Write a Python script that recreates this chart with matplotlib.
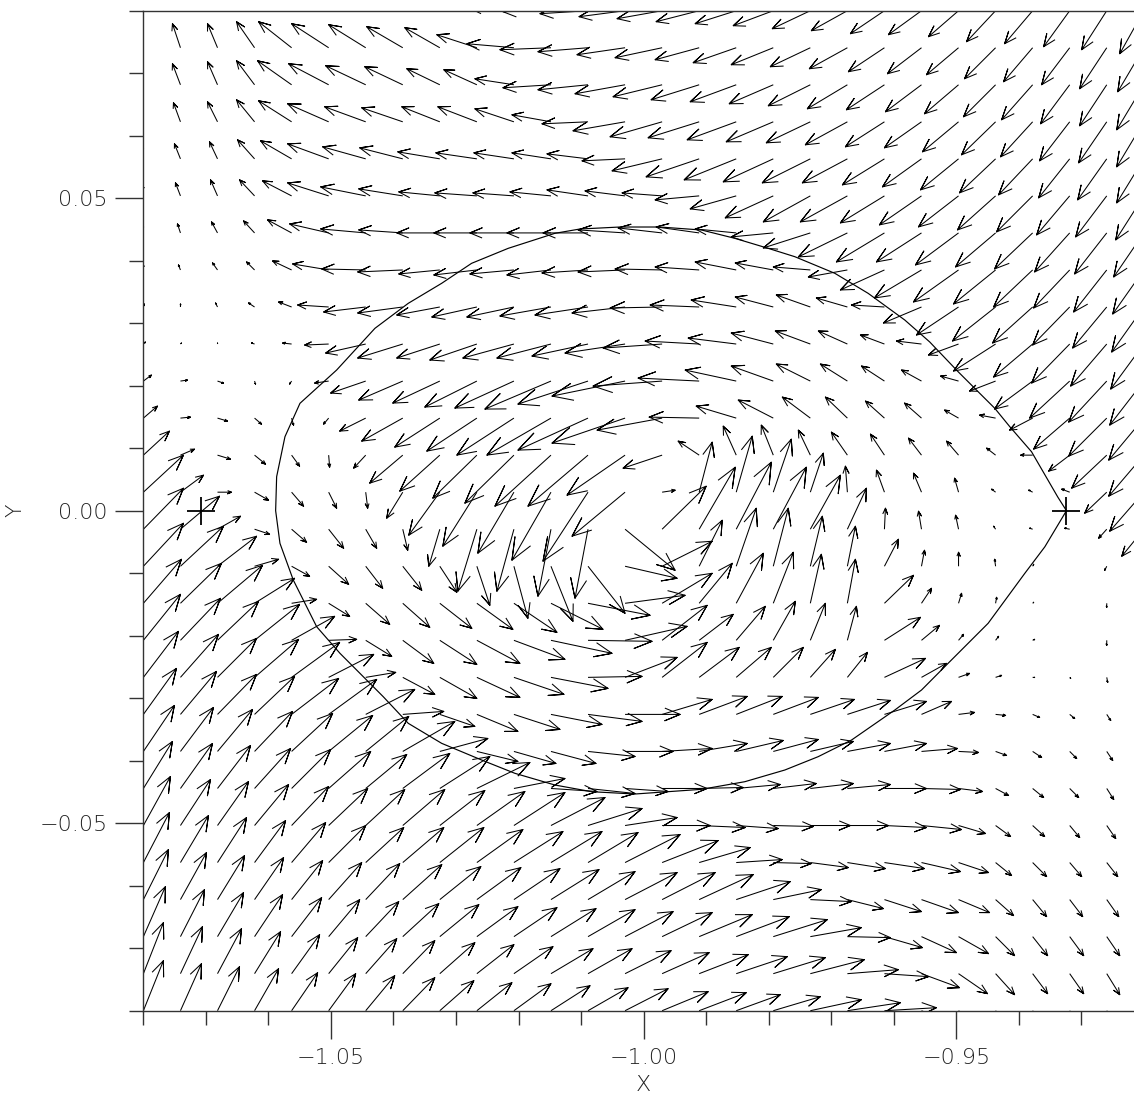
import numpy as np
import matplotlib
matplotlib.use("Agg")
import matplotlib.pyplot as plt
from matplotlib.collections import LineCollection
from matplotlib.ticker import MultipleLocator, FuncFormatter

# grid of the vector field (28 x 28), rows listed from top (y=0.08) to bottom
x_grid = np.linspace(-1.08, -0.92, 28)
y_grid = np.linspace(0.08, -0.08, 28)

# field components (arbitrary velocity units)
u_rows = [
    [-3,-7,-9,-18,-32,-36,-36,-35,-34,-38,-45,-48,-48,-46,-45,-43,-41,-40,-38,-36,-34,-33,-30,-29,-28,-26,-25,-24],
    [-4,-8,-10,-18,-33,-37,-37,-36,-35,-40,-47,-51,-50,-48,-47,-44,-43,-42,-40,-38,-36,-34,-32,-31,-29,-28,-27,-26],
    [-4,-8,-10,-18,-34,-40,-40,-38,-33,-33,-39,-48,-50,-50,-49,-48,-46,-44,-42,-40,-38,-36,-34,-32,-31,-29,-27,-27],
    [-3,-7,-10,-18,-33,-41,-41,-41,-38,-39,-39,-39,-46,-52,-52,-51,-49,-47,-44,-42,-39,-37,-36,-34,-32,-30,-28,-27],
    [-2,-6,-8,-17,-31,-41,-43,-43,-42,-41,-40,-39,-41,-43,-50,-53,-52,-50,-48,-45,-42,-39,-38,-36,-34,-31,-29,-27],
    [-1,-5,-7,-15,-29,-41,-45,-44,-41,-42,-41,-41,-41,-40,-40,-44,-46,-48,-47,-47,-44,-42,-40,-38,-36,-33,-31,-28],
    [-1,-3,-6,-11,-24,-39,-45,-44,-43,-43,-44,-44,-45,-47,-44,-43,-41,-42,-47,-49,-48,-45,-43,-40,-38,-35,-32,-30],
    [0,-2,-5,-8,-19,-36,-44,-45,-41,-43,-44,-44,-46,-47,-47,-44,-41,-38,-37,-39,-44,-47,-45,-42,-39,-36,-33,-31],
    [1,0,-2,-6,-13,-31,-42,-45,-43,-45,-47,-51,-53,-53,-52,-49,-45,-38,-34,-31,-33,-38,-42,-43,-40,-37,-34,-32],
    [2,1,0,-3,-9,-24,-40,-45,-43,-47,-51,-54,-56,-60,-59,-54,-48,-42,-35,-29,-24,-25,-30,-42,-39,-38,-36,-33],
    [8,7,6,1,-2,-14,-35,-44,-47,-52,-59,-66,-70,-73,-69,-61,-51,-42,-34,-27,-23,-20,-18,-26,-38,-40,-38,-34],
    [14,10,10,7,2,-5,-26,-41,-45,-50,-57,-64,-70,-73,-65,-50,-40,-35,-28,-22,-19,-17,-14,-16,-23,-36,-38,-35],
    [26,14,13,11,8,1,-12,-33,-40,-44,-49,-56,-60,-58,-39,-21,-13,-12,-12,-16,-14,-13,-12,-9,-12,-21,-35,-35],
    [40,23,14,14,12,8,2,-16,-31,-34,-36,-39,-45,-53,13,13,16,18,13,-2,-8,-8,-4,-4,-4,-8,-22,-34],
    [40,39,23,15,15,15,11,5,-11,-19,-17,-13,-13,50,44,36,35,33,30,19,1,-3,-3,-2,-3,-5,-8,-22],
    [40,43,39,24,18,20,17,19,17,13,14,22,37,52,50,23,20,15,12,8,14,3,0,-1,1,0,-2,-3],
    [38,41,45,40,25,21,24,27,32,36,43,52,62,60,50,33,27,20,11,8,29,10,3,1,1,0,0,0],
    [37,40,41,45,43,28,26,31,37,43,51,61,64,62,45,34,29,22,15,9,36,18,5,3,2,0,0,0],
    [35,38,39,44,48,45,30,32,37,43,50,57,54,52,45,40,35,30,25,20,41,25,11,6,2,1,1,1],
    [33,36,39,40,47,48,49,41,35,41,46,51,54,55,50,48,46,45,44,43,42,30,16,10,7,5,4,3],
    [31,33,35,38,41,44,43,52,48,41,42,45,47,48,50,48,47,45,43,43,42,36,20,11,9,7,6,5],
    [29,32,33,36,39,42,41,47,50,53,51,46,47,43,45,44,44,43,43,43,42,39,24,13,11,9,7,6],
    [27,30,31,34,37,39,39,42,45,48,51,54,54,52,48,46,42,40,40,41,42,40,27,15,12,10,9,8],
    [26,28,29,31,34,37,38,41,44,46,49,51,50,55,56,51,46,38,38,38,40,39,30,16,14,12,11,10],
    [25,26,27,29,31,33,34,39,41,44,46,48,47,52,53,54,54,48,41,36,37,37,31,18,14,13,12,11],
    [22,24,26,28,30,31,33,36,39,41,43,45,47,48,50,53,53,54,51,43,38,35,30,19,15,14,13,12],
    [20,22,24,26,28,29,31,32,35,37,39,42,44,46,47,49,51,52,54,51,44,38,29,19,15,14,13,13],
    [20,21,22,24,26,27,29,32,34,35,37,39,40,43,46,47,44,47,51,53,52,38,30,19,15,14,14,13],
]
v_rows = [
    [24,26,26,27,27,25,24,22,20,14,3,-1,-3,-6,-8,-11,-13,-15,-18,-20,-23,-24,-26,-31,-33,-36,-39,-43],
    [22,24,24,26,26,24,23,21,20,13,4,-2,-4,-7,-10,-12,-15,-17,-19,-21,-24,-26,-27,-31,-34,-37,-41,-44],
    [20,21,23,24,24,21,19,18,16,15,6,-3,-5,-9,-12,-15,-17,-19,-21,-24,-25,-27,-29,-32,-35,-39,-41,-45],
    [18,19,20,22,21,18,15,14,15,15,13,7,-2,-9,-15,-16,-18,-20,-21,-23,-25,-26,-30,-33,-35,-39,-41,-45],
    [14,15,17,19,18,15,12,11,7,6,6,6,5,-2,-12,-18,-21,-23,-24,-24,-26,-28,-31,-34,-36,-39,-41,-44],
    [11,13,16,16,15,13,9,7,4,3,3,4,6,5,3,-4,-13,-22,-26,-26,-27,-29,-31,-34,-36,-39,-41,-44],
    [8,9,11,12,13,9,4,3,0,0,0,0,0,3,5,6,4,-4,-15,-24,-29,-29,-32,-34,-36,-39,-41,-44],
    [5,5,7,8,9,6,1,-2,-4,-5,-4,-5,-3,-2,1,3,8,7,3,-7,-20,-28,-32,-34,-37,-38,-42,-44],
    [3,3,4,4,5,2,-5,-6,-8,-10,-10,-9,-8,-6,-1,2,7,10,12,9,2,-16,-28,-34,-36,-38,-41,-45],
    [2,1,1,1,1,-1,-9,-14,-14,-16,-14,-14,-12,-9,-4,3,6,11,13,13,9,3,-11,-27,-33,-39,-42,-45],
    [6,1,-2,-3,-3,-2,-12,-19,-22,-26,-27,-28,-23,-15,-5,3,11,15,17,17,15,11,5,-10,-28,-37,-41,-44],
    [12,1,-3,-6,-7,-6,-13,-23,-29,-33,-37,-37,-32,-25,-12,1,12,18,21,21,17,15,8,3,-12,-31,-38,-42],
    [24,6,-4,-9,-11,-12,-13,-28,-36,-43,-48,-51,-51,-40,-13,14,29,30,25,23,21,17,14,7,0,-16,-33,-41],
    [37,17,0,-8,-14,-16,-16,-26,-43,-54,-61,-68,-69,-44,2,50,56,53,39,26,22,19,14,3,2,3,-21,-39],
    [41,33,13,-5,-13,-19,-19,-21,-37,-62,-62,-67,-69,-41,43,62,67,62,54,41,21,18,14,3,1,1,-9,-27],
    [43,40,30,7,-10,-18,-22,-24,-26,-39,-52,-55,-47,-12,25,46,58,58,50,40,27,16,14,7,2,0,-4,-10],
    [44,40,38,25,4,-13,-21,-24,-25,-26,-29,-26,-12,8,30,40,50,51,49,44,28,15,10,6,1,0,-4,-8],
    [46,42,39,36,24,1,-16,-23,-24,-23,-19,-13,-1,14,35,26,34,39,37,34,23,15,6,4,1,0,-5,-8],
    [46,43,39,38,35,23,5,-17,-21,-20,-17,-11,1,20,35,30,30,30,28,25,19,14,4,2,0,-1,-5,-8],
    [46,43,40,38,36,35,25,3,-12,-17,-15,-10,-7,0,15,18,18,17,15,14,13,13,2,-1,-3,-4,-6,-8],
    [46,44,42,40,38,36,35,30,13,-10,-12,-12,-5,0,3,8,11,12,10,8,8,3,-1,-4,-6,-7,-9,-10],
    [47,45,43,40,39,37,34,35,32,26,10,-3,-5,-3,0,1,4,5,5,4,0,-1,-3,-7,-9,-9,-11,-12],
    [49,46,44,41,39,37,36,36,35,34,33,28,17,8,0,-2,-3,-1,0,0,-2,-4,-8,-11,-11,-12,-13,-14],
    [50,47,45,42,40,37,35,35,35,33,31,31,30,28,22,15,3,-1,-5,-6,-6,-9,-10,-13,-14,-14,-14,-15],
    [50,47,44,42,39,37,36,35,33,32,31,30,28,27,27,25,18,10,-2,-9,-12,-13,-13,-16,-17,-17,-17,-17],
    [50,47,44,42,39,37,35,33,32,30,29,28,27,25,24,22,20,17,9,-1,-11,-16,-17,-19,-19,-19,-19,-19],
    [51,47,45,42,39,36,35,33,31,29,27,25,25,23,21,19,17,16,14,4,-3,-14,-20,-21,-20,-20,-21,-21],
    [50,47,44,42,38,37,35,33,30,28,27,25,23,22,19,18,16,14,11,8,3,-16,-22,-22,-22,-22,-22,-22],
]

# closed curve through the right point
curve_x = [-0.93237, -0.93376, -0.93796, -0.94143, -0.94383, -0.94650, -0.94970, -0.95423,
           -0.95823, -0.96409, -0.96941, -0.97581, -0.98008, -0.98541, -0.99073, -0.99740,
           -1.00379, -1.01019, -1.01419, -1.02165, -1.02751, -1.03230, -1.03764, -1.04297,
           -1.04909, -1.05496, -1.05736, -1.05869, -1.05885, -1.05816, -1.05603, -1.05229,
           -1.04856, -1.04164, -1.03764, -1.03230, -1.02591, -1.02058, -1.01419, -1.00832,
           -1.00139, -0.99073, -0.98381, -0.97741, -0.97209, -0.96674, -0.95982, -0.95555,
           -0.95130, -0.94490, -0.93903, -0.93583, -0.93237]
curve_y = [0.0, 0.00219, 0.00944, 0.01344, 0.01638, 0.01904, 0.02224, 0.02699,
           0.03051, 0.03478, 0.03798, 0.04064, 0.04198, 0.04358, 0.04491, 0.04539,
           0.04539, 0.04507, 0.04438, 0.04198, 0.03958, 0.03638, 0.03318, 0.02918,
           0.02251, 0.01718, 0.01184, 0.00544, 0.0, -0.00522, -0.01109, -0.01856,
           -0.02282, -0.02976, -0.03402, -0.03722, -0.03989, -0.04202, -0.04389, -0.04496,
           -0.04533, -0.04458, -0.04336, -0.04149, -0.03936, -0.03669, -0.03189, -0.02869,
           -0.02442, -0.01802, -0.01002, -0.00578, 0.0]

# marked points
pts_x = [-1.0708, -0.9324]
pts_y = [0.0, 0.0]

W, H = 1134, 1094
fig = plt.figure(figsize=(W / 100, H / 100), dpi=100)
ax = fig.add_axes([143.4 / W, 83.3 / H, 1000.4 / W, 1000.0 / H])

# arrows: shaft plus two open barbs, as in IDL velovect
vscale = 1.0 / 6250.0
X, Y = np.meshgrid(x_grid, y_grid)
U = np.array(u_rows, dtype=float) * vscale
V = np.array(v_rows, dtype=float) * vscale
X1, Y1 = X + U, Y + V
r = 0.3
ang = np.radians(22.5)
ct, st = r * np.cos(ang), r * np.sin(ang)
segs = []
for j in range(len(y_grid)):
    for i in range(len(x_grid)):
        dx, dy = U[j, i], V[j, i]
        if dx == 0 and dy == 0:
            continue
        x0, y0, x1, y1 = X[j, i], Y[j, i], X1[j, i], Y1[j, i]
        segs.append([(x0, y0), (x1, y1),
                     (x1 - (ct * dx - st * dy), y1 - (ct * dy + st * dx)),
                     (x1, y1),
                     (x1 - (ct * dx + st * dy), y1 - (ct * dy - st * dx))])
ax.add_collection(LineCollection(segs, colors="black", linewidths=0.75))

ax.plot(curve_x, curve_y, color="black", lw=0.85)
ax.plot(pts_x, pts_y, "+", color="black", ms=20, mew=1.3)

ax.set_xlim(-1.08, -0.92)
ax.set_ylim(-0.08, 0.08)

fmt = FuncFormatter(lambda v, p: f"{v:.2f}".replace("-", "\u2212"))
ax.xaxis.set_major_locator(MultipleLocator(0.05))
ax.xaxis.set_minor_locator(MultipleLocator(0.01))
ax.yaxis.set_major_locator(MultipleLocator(0.05))
ax.yaxis.set_minor_locator(MultipleLocator(0.01))
ax.xaxis.set_major_formatter(fmt)
ax.yaxis.set_major_formatter(fmt)

ax.tick_params(which="major", direction="out", length=20, width=1.0, top=False, right=False,
               labelsize=16, color="#333333", labelcolor="#222222")
ax.tick_params(which="minor", direction="out", length=10, width=1.0, top=False, right=False,
               color="#333333")
ax.tick_params(axis="x", which="major", pad=7)
ax.tick_params(axis="y", which="major", pad=6)
for lab in ax.get_xticklabels() + ax.get_yticklabels():
    lab.set_fontweight("light")

for s in ax.spines.values():
    s.set_color("#333333")
    s.set_linewidth(1.0)

ax.set_xlabel("X", fontsize=16, fontweight="light", color="#222222")
ax.set_ylabel("Y", fontsize=16, fontweight="light", color="#222222")
ax.xaxis.set_label_coords(0.5, -0.0745)
ax.xaxis.label.set_va("center")
ax.yaxis.set_label_coords(-0.1283, 0.5)
ax.yaxis.label.set_va("center")

fig.savefig("out.png", dpi=100)
